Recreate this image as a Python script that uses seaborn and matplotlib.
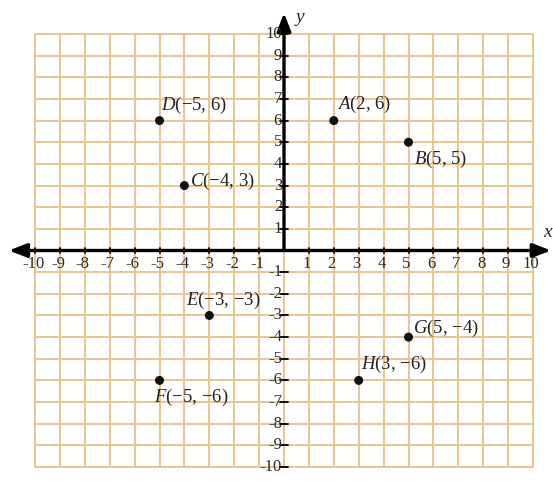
import matplotlib
matplotlib.use("Agg")
import matplotlib.pyplot as plt
import seaborn as sns
import pandas as pd

# Points plotted on the coordinate plane
names = ["A", "B", "C", "D", "E", "F", "G", "H"]
xs = [2, 5, -4, -5, -3, -5, 5, 3]
ys = [6, 5, 3, 6, -3, -6, -4, -6]

# Axis tick values and their printed labels
ticks = list(range(-10, 11))
tick_labels = [("" if t == 0 else str(t)) for t in ticks]

# Label offsets (points) relative to each dot
offsets = {
    "A": (2, 4, "left", "bottom"),
    "B": (4, -5, "left", "top"),
    "C": (4, 3, "left", "center"),
    "D": (1, 3, "left", "bottom"),
    "E": (-17, 3, "left", "bottom"),
    "F": (-4, -5, "left", "top"),
    "G": (3, 6, "left", "center"),
    "H": (2, 4, "left", "bottom"),
}

sns.set_theme(style="white")
plt.rcParams["font.family"] = ["Liberation Serif", "DejaVu Serif"]
plt.rcParams["mathtext.fontset"] = "custom"
plt.rcParams["mathtext.it"] = "Liberation Serif:italic"
plt.rcParams["mathtext.rm"] = "Liberation Serif"

fig = plt.figure(figsize=(5.53, 4.84), dpi=100)
ax = fig.add_axes([0, 0, 1, 1])
ax.set_xlim(-11.406, 10.803)
ax.set_ylim(-10.785, 11.57)

grid_color = "#EAC590"
for t in ticks:
    ax.plot([t, t], [-10, 10], color=grid_color, lw=1.4, zorder=1)
    ax.plot([-10, 10], [t, t], color=grid_color, lw=1.4, zorder=1)

# Axes drawn as arrows through the origin
arrow = dict(arrowstyle="-|>,head_length=0.9,head_width=0.35", color="black",
             lw=2.4, shrinkA=0, shrinkB=0, mutation_scale=12)
ax.annotate("", xy=(10.72, 0), xytext=(0, 0), arrowprops=arrow, zorder=3)
ax.annotate("", xy=(-11.05, 0), xytext=(0, 0), arrowprops=arrow, zorder=3)
ax.annotate("", xy=(0, 10.97), xytext=(0, 0), arrowprops=arrow, zorder=3)
ax.annotate("", xy=(0, -11.2), xytext=(0, 0), arrowprops=arrow, zorder=3)

# Tick marks and numbers along both axes
for t, lab in zip(ticks, tick_labels):
    if t == 0:
        continue
    ax.plot([t, t], [-0.13, 0.13], color="black", lw=1.3, zorder=3)
    ax.plot([-0.15, 0.15], [t, t], color="black", lw=1.3, zorder=3)
    ax.text(t - 0.08, -0.25, lab, ha="center", va="top", fontsize=12, color="#2a2a2a", zorder=4)
    ax.text(-0.08, t, lab, ha="right", va="center", fontsize=12, color="#2a2a2a", zorder=4)

ax.text(0.64, 10.65, "$y$", fontsize=14, ha="center", va="center")
ax.text(10.6, 0.85, "$x$", fontsize=14, ha="center", va="center")

df = pd.DataFrame({"name": names, "x": xs, "y": ys})
sns.scatterplot(data=df, x="x", y="y", color="#111111", s=42, edgecolor="none",
                ax=ax, zorder=5, legend=False)

for n, x, y in zip(names, xs, ys):
    dx, dy, ha, va = offsets[n]
    lab = f"${n}$({str(x).replace('-', '−')}, {str(y).replace('-', '−')})"
    ax.annotate(lab, (x, y), xytext=(dx, dy), textcoords="offset points",
                ha=ha, va=va, fontsize=13.5, color="#222222", zorder=6)

ax.set_axis_off()
fig.savefig("out.png", dpi=100, facecolor="white")
